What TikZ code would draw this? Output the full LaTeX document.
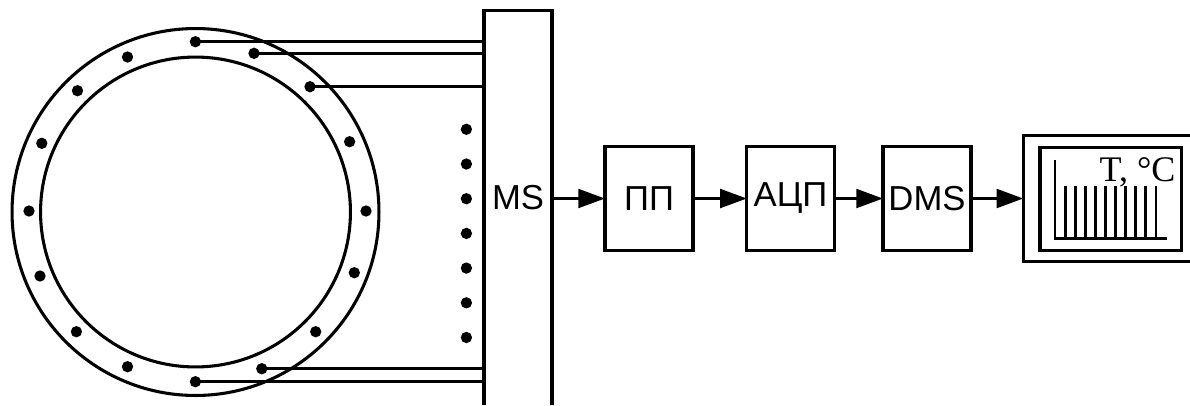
\documentclass[tikz,border=0pt]{standalone}
\usepackage{fontspec}
\setmainfont{Liberation Sans}
\newfontfamily\unitfont{Liberation Serif}
\usetikzlibrary{arrows.meta}
\tikzset{
	every path/.style={line width=2.3pt},
	block/.style={
		draw,
		rectangle,
		inner sep=0pt,
		outer sep=0pt,
		font=\fontsize{26}{26}\selectfont,
	},
	sensor/.style={
		circle,
		fill=black,
		inner sep=0pt,
		minimum size=8.5pt,
	},
	signal/.style={
		-{Triangle[length=20pt,width=14pt]},
	},
	wire/.style={
		line width=2.3pt,
	},
	bar/.style={
		line width=2.2pt,
	},
}

\begin{document}
\begin{tikzpicture}[x=0.75pt,y=-0.75pt]
	\useasboundingbox (0,0) rectangle (1190,405);

	\draw (195.5,212) circle (137.6pt);
	\draw (195.5,212) circle (116.2pt);

	\node[block,draw=none,minimum width=51pt,minimum height=281pt] (ms) at (518,198) {MS};
	\node[block,minimum width=66pt,minimum height=77.5pt] (pp) at (649,198.5) {ПП};
	\node[block,minimum width=65.5pt,minimum height=77.5pt] (adc) at (790.5,198.5) {АЦП};
	\node[block,minimum width=66pt,minimum height=77.5pt] (dms) at (927,198.5) {DMS};
	\node[block,draw=none,minimum width=125pt,minimum height=94pt] (display) at (1106.65,198.5) {};
	\node[block,minimum width=106.3pt,minimum height=77.5pt] (screen) at (1110.85,199) {};

	\coordinate (msfoot) at (518,405);
	\draw (ms.west |- msfoot) |- (ms.north east) -- (ms.east |- msfoot);
	\draw (display.south east) -- (display.south west) |- (display.north east);

	\node[sensor] (s1) at (195.4,41.7) {};
	\node[sensor] (s2) at (254,53.3) {};
	\node[sensor] (s3) at (310,86.7) {};
	\node[sensor] (s4) at (349.6,141.7) {};
	\node[sensor] (s5) at (366,211) {};
	\node[sensor] (s6) at (354.3,272.7) {};
	\node[sensor] (s7) at (315.7,331.7) {};
	\node[sensor] (s8) at (261.8,368.7) {};
	\node[sensor] (s9) at (195.4,381.7) {};
	\node[sensor] (s10) at (127.5,366.7) {};
	\node[sensor] (s11) at (76.4,331.7) {};
	\node[sensor] (s12) at (40,276) {};
	\node[sensor] (s13) at (29,211) {};
	\node[sensor] (s14) at (41.8,143.3) {};
	\node[sensor] (s15) at (77.5,90.7) {};
	\node[sensor] (s16) at (127.5,57) {};

	\foreach \i in {0,...,6}
		\node[sensor] (gap\i) at (466.4,129.3+34.7*\i) {};

	\draw[wire] (s1.center) -- (s1 -| ms.west);
	\draw[wire] (s2.center) -- (s2 -| ms.west);
	\draw[wire] (s3.center) -- (s3 -| ms.west);
	\draw[wire] (s8.center) -- (s8 -| ms.west);
	\draw[wire] (s9.center) -- (s9 -| ms.west);

	\draw[signal] (ms.east |- pp.west) -- (pp.west);
	\draw[signal] (pp) -- (adc);
	\draw[signal] (adc) -- (dms);
	\draw[signal] (dms) -- (display.west |- dms);

	\coordinate (origin) at (1055,238.7);
	\coordinate (axisy) at (1055,160);
	\coordinate (axisx) at (1166.7,238.7);
	\draw[bar] (axisy) -- (origin) -- (axisx);
	\foreach \i in {1,...,10}
		\draw[bar] (1055+10.1*\i,186) -- (1055+10.1*\i,238.7);

	\node[anchor=base east,inner sep=0pt,font=\unitfont\fontsize{27}{27}\selectfont] (unit) at (1177,181.7) {T, °C};

\end{tikzpicture}
\end{document}
